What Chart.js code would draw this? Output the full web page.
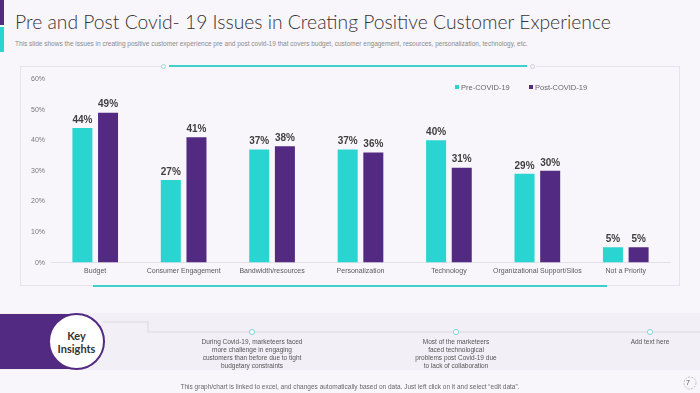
<!DOCTYPE html>
<html>
<head>
<meta charset="utf-8">
<script src="https://cdn.jsdelivr.net/npm/chart.js@4.4.1/dist/chart.umd.min.js"></script>
<style>
  html, body { margin: 0; padding: 0; }
  body { width: 700px; height: 393px; background: #f8f6fb; position: relative; overflow: hidden; font-family: "Liberation Sans", Arial, sans-serif; }
  .abs { position: absolute; }
  #title { left: 15px; top: 10px; font-family: "Lato", sans-serif; font-weight: 300; font-size: 19.3px; color: #333; white-space: nowrap; }
  #sub { left: 15px; top: 40px; font-size: 6.5px; color: #8a8a8a; white-space: nowrap; }
  #panel { left: 20px; top: 66px; width: 660px; height: 220px; border: 1px solid #e6e3eb; border-top: none; box-sizing: border-box; }
  #chartBox { left: 20px; top: 66px; width: 660px; height: 220px; }
  .legend { top: 83px; font-size: 7.5px; color: #666; white-space: nowrap; }
  .legend i { display: inline-block; width: 4px; height: 4px; margin-right: 2px; vertical-align: 1px; }
  .insight { font-size: 6.5px; color: #555; text-align: center; line-height: 8px; width: 130px; white-space: nowrap; }
  #foot { left: 0; width: 700px; top: 383px; text-align: center; font-size: 6.5px; color: #666; }
</style>
</head>
<body>
<div class="abs" style="left:0;top:0;width:4px;height:25px;background:#532a82"></div>
<div class="abs" style="left:0;top:27px;width:4px;height:25px;background:#2ad5d1"></div>
<div id="title" class="abs">Pre and Post Covid- 19 Issues in Creating Positive Customer Experience</div>
<div id="sub" class="abs">This slide shows the issues in creating positive customer experience pre and post covid-19 that covers budget, customer engagement, resources, personalization, technology, etc.</div>

<div id="panel" class="abs"></div>
<!-- top rule with teal segment -->
<div class="abs" style="left:20px;top:66px;width:142px;height:1px;background:#e6e3eb"></div>
<div class="abs" style="left:161px;top:64px;width:3px;height:3px;border:1px solid #9fdcda;border-radius:50%"></div>
<div class="abs" style="left:169px;top:65px;width:358px;height:2px;background:#3fcfcc"></div>
<div class="abs" style="left:530px;top:64px;width:3px;height:3px;border:1px solid #cfcfd8;border-radius:50%"></div>
<div class="abs" style="left:536px;top:66px;width:144px;height:1px;background:#e6e3eb"></div>
<!-- bottom teal rule -->
<div class="abs" style="left:93px;top:285px;width:514px;height:2px;background:#3fcfcc"></div>

<div id="chartBox" class="abs"><canvas id="covidIssues"></canvas></div>
<div class="abs legend" style="left:455px"><i style="background:#2ad5d1"></i>Pre-COVID-19</div>
<div class="abs legend" style="left:529px"><i style="background:#532a82"></i>Post-COVID-19</div>

<!-- key insights band -->
<div class="abs" style="left:0;top:313px;width:700px;height:57px;background:#f2eff6"></div>
<div class="abs" style="left:0;top:314px;width:80px;height:55px;background:#532a82"></div>
<div class="abs" style="left:48px;top:313px;width:53px;height:53px;border-radius:50%;background:#fff;border:2px solid #532a82"></div>
<div class="abs" style="left:50px;top:329px;width:53px;text-align:center;font-family:'Lato',sans-serif;font-weight:700;font-size:11px;line-height:13px;color:#333">Key<br>Insights</div>
<svg class="abs" style="left:0;top:0" width="700" height="393">
  <polyline points="103,322 148,322 148,332 700,332" fill="none" stroke="#e2dfe8" stroke-width="1.5"/>
  <circle cx="252" cy="332" r="2.6" fill="#f8f6fb" stroke="#7fd9d6" stroke-width="1"/>
  <circle cx="456" cy="332" r="2.6" fill="#f8f6fb" stroke="#7fd9d6" stroke-width="1"/>
  <circle cx="650" cy="332" r="2.6" fill="#f8f6fb" stroke="#7fd9d6" stroke-width="1"/>
  <circle cx="690" cy="383" r="6" fill="none" stroke="#bbb" stroke-width="1" stroke-dasharray="2 1.2"/>
</svg>
<div class="abs insight" style="left:187px;top:338px">During Covid-19, marketeers faced<br>more challenge in engaging<br>customers than before due to tight<br>budgetary constraints</div>
<div class="abs insight" style="left:391px;top:338px">Most of the marketeers<br>faced technological<br>problems post Covid-19 due<br>to lack of collaboration</div>
<div class="abs insight" style="left:585px;top:338px">Add text here</div>
<div id="foot" class="abs">This graph/chart is linked to excel,  and changes automatically based on data. Just left click on it and select “edit data”.</div>
<div class="abs" style="left:686px;top:379px;font-size:7px;color:#555">7</div>

<script>
var categories = ['Budget', 'Consumer Engagement', 'Bandwidth/resources', 'Personalization', 'Technology', 'Organizational Support/Silos', 'Not a Priority'];
var preCovid = [44, 27, 37, 37, 40, 29, 5];
var postCovid = [49, 41, 38, 36, 31, 30, 5];
var yTicks = [0, 10, 20, 30, 40, 50, 60];

// value labels above the bars
var barLabels = {
    id: 'barLabels',
    afterDatasetsDraw: function(chart) {
        var ctx = chart.ctx;
        ctx.save();
        ctx.font = 'bold 10px "Liberation Sans", Arial, sans-serif';
        ctx.fillStyle = '#404040';
        ctx.textAlign = 'center';
        ctx.textBaseline = 'bottom';
        chart.data.datasets.forEach(function(ds, i) {
            chart.getDatasetMeta(i).data.forEach(function(bar, j) {
                ctx.fillText(ds.data[j] + '%', bar.x, bar.y - 3);
            });
        });
        ctx.restore();
    }
};

var ctx = document.getElementById('covidIssues').getContext('2d');
var covidIssues = new Chart(ctx, {
    type: 'bar',
    data: {
        labels: categories,
        datasets: [{
            label: 'Pre-COVID-19',
            data: preCovid,
            backgroundColor: '#2ad5d1'
        }, {
            label: 'Post-COVID-19',
            data: postCovid,
            backgroundColor: '#532a82'
        }]
    },
    options: {
        responsive: true,
        maintainAspectRatio: false,
        animation: false,
        categoryPercentage: 0.58,
        barPercentage: 0.78,
        layout: { padding: { top: 13, right: 10, left: 0, bottom: 7 } },
        plugins: {
            legend: { display: false },
            tooltip: { enabled: false }
        },
        scales: {
            x: {
                grid: { display: false, drawTicks: false },
                border: { color: '#e3e0e8' },
                ticks: {
                    color: '#595959',
                    font: { size: 7, family: '"Liberation Sans", Arial, sans-serif' },
                    maxRotation: 0,
                    autoSkip: false,
                    padding: 4
                }
            },
            y: {
                min: 0,
                max: 60,
                afterFit: function(scale) { scale.width = 31; },
                afterBuildTicks: function(scale) {
                    scale.ticks = yTicks.map(function(v) { return { value: v }; });
                },
                grid: { display: false, drawTicks: false },
                border: { display: false },
                ticks: {
                    color: '#777',
                    font: { size: 7, family: '"Liberation Sans", Arial, sans-serif' },
                    padding: 6,
                    callback: function(v) { return v + '%'; }
                }
            }
        }
    },
    plugins: [barLabels]
});
</script>
</body>
</html>
